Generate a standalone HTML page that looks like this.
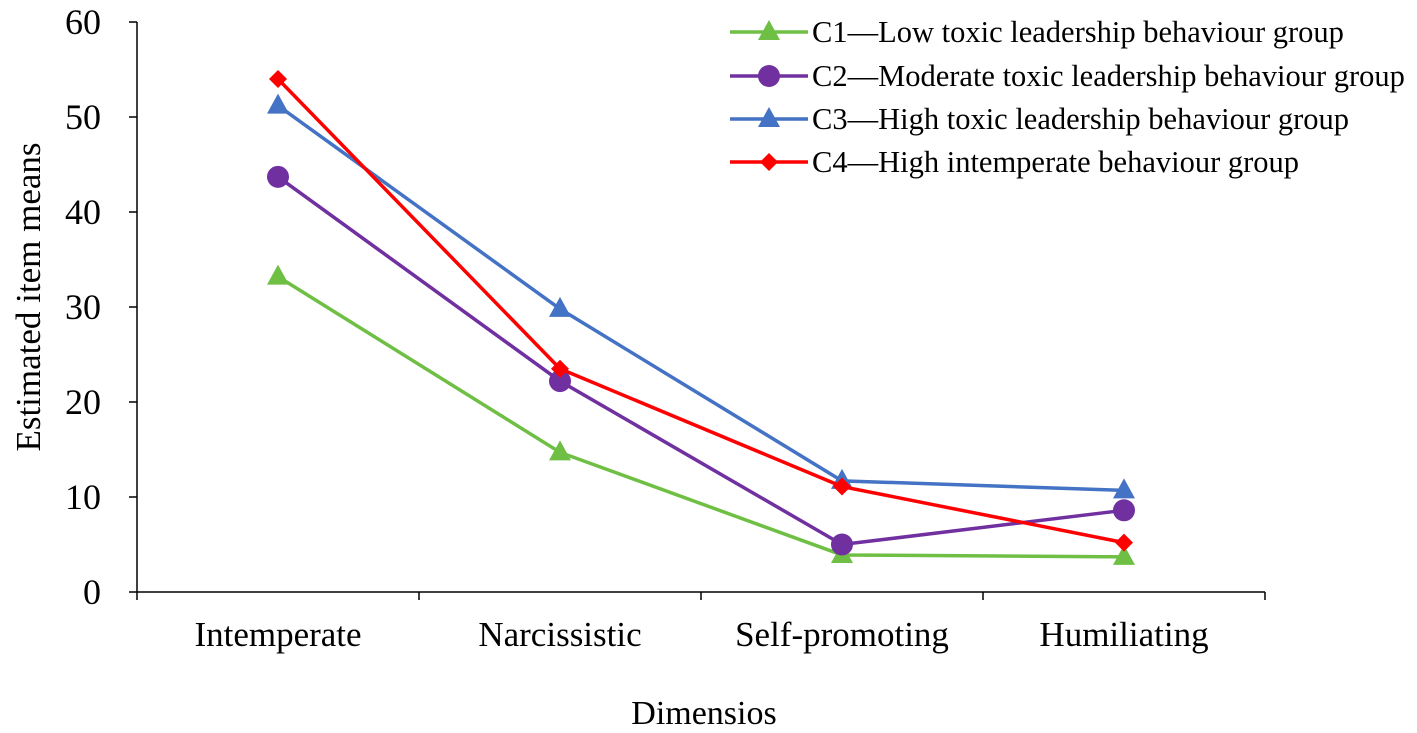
<!DOCTYPE html>
<html><head><meta charset="utf-8"><style>
html,body{margin:0;padding:0;background:#fff;}
svg text{font-family:"Liberation Serif",serif;fill:#000;}
</style></head><body>
<svg id="chart" width="1417" height="728" viewBox="0 0 1417 728" xmlns="http://www.w3.org/2000/svg">
<g id="axes"></g>
<g id="series"></g>
<g id="legend"></g>
<text transform="translate(40,297) rotate(-90)" text-anchor="middle" font-size="35">Estimated item means</text>
<text x="704" y="724" text-anchor="middle" font-size="34">Dimensios</text>
</svg>
<script>
const categories = ["Intemperate","Narcissistic","Self-promoting","Humiliating"];
const yTicks = [0,10,20,30,40,50,60];
const seriesNames = ["C1\u2014Low toxic leadership behaviour group","C2\u2014Moderate toxic leadership behaviour group","C3\u2014High toxic leadership behaviour group","C4\u2014High intemperate behaviour group"];
const c1 = [33.2,14.7,3.9,3.7];
const c2 = [43.7,22.2,5.0,8.6];
const c3 = [51.2,29.8,11.7,10.7];
const c4 = [54.0,23.5,11.1,5.2];

const NS="http://www.w3.org/2000/svg";
const X0=137, STEP=282, Y0=592, YPX=9.5;
const xPos=i=>X0+STEP*(i+0.5);
const yPos=v=>Y0-v*YPX;
function mk(tag,attrs,parent){const e=document.createElementNS(NS,tag);for(const k in attrs)e.setAttribute(k,attrs[k]);parent.appendChild(e);return e;}
const axes=document.getElementById('axes');
let e=mk('line',{x1:X0,y1:yPos(60),x2:X0,y2:Y0,stroke:'#000','stroke-width':1.5},axes);


e=mk('line',{x1:X0,y1:Y0,x2:X0+STEP*categories.length,y2:Y0,stroke:'#000','stroke-width':1.5},axes);


yTicks.forEach(t=>{
  mk('line',{x1:X0-8,y1:yPos(t),x2:X0,y2:yPos(t),stroke:'#000','stroke-width':1.5},axes);
  const tx=mk('text',{x:X0-36,y:yPos(t)+12,'text-anchor':'end','font-size':36},axes);
  tx.textContent=t;
  
  
});
for(let i=0;i<=categories.length;i++) mk('line',{x1:X0+STEP*i,y1:Y0,x2:X0+STEP*i,y2:Y0+8,stroke:'#000','stroke-width':1.5},axes);
categories.forEach((c,i)=>{
  const tx=mk('text',{x:xPos(i),y:646,'text-anchor':'middle','font-size':35},axes);
  tx.textContent=c;
  
  
});
const colors=['#6fbf44','#7030a0','#4472c4','#ff0000'];
const markers=['tri','circle','tri','diamond'];
function marker(type,x,y,col,parent){
  if(type==='tri') return mk('polygon',{points:`${x},${y-12} ${x-11},${y+8} ${x+11},${y+8}`,fill:col},parent);
  if(type==='circle') return mk('circle',{cx:x,cy:y,r:11,fill:col},parent);
  return mk('polygon',{points:`${x},${y-9} ${x+9},${y} ${x},${y+9} ${x-9},${y}`,fill:col},parent);
}
const sg=document.getElementById('series');
[c1,c2,c3,c4].forEach((vals,s)=>{
  const g=mk('g',{},sg);
  
  
  const pl=mk('polyline',{points:vals.map((v,i)=>xPos(i)+','+yPos(v)).join(' '),fill:'none',stroke:colors[s],'stroke-width':3.5},g);
  
  
  vals.forEach((v,i)=>{
    const m=marker(markers[s],xPos(i),yPos(v),colors[s],g);
    
    
  });
});
const lg=document.getElementById('legend');
const ly=[32,76,119,162];
seriesNames.forEach((n,s)=>{
  const g=mk('g',{},lg);
  
  
  mk('line',{x1:730,y1:ly[s],x2:808,y2:ly[s],stroke:colors[s],'stroke-width':3.5},g);
  marker(markers[s],769,ly[s],colors[s],g);
  const t=mk('text',{x:812,y:ly[s]+10,'font-size':30.5},g);
  t.textContent=n;
});
</script>
</body></html>
